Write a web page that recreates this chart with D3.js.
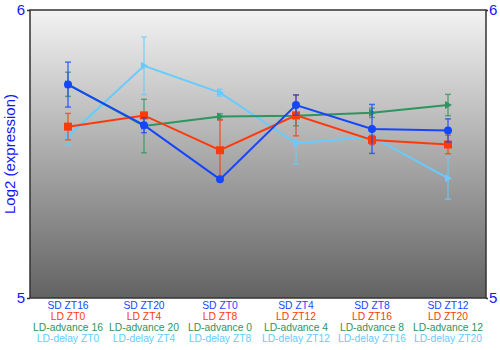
<!DOCTYPE html>
<html>
<head>
<meta charset="utf-8">
<script src="https://d3js.org/d3.v7.min.js"></script>
<style>
  body { margin: 0; background: #fff; }
  svg { font-family: "Liberation Sans", Arial, sans-serif; }
</style>
</head>
<body>
<div id="chart"></div>
<script>
// Data
const categories = ["0", "1", "2", "3", "4", "5"]
const labelsSD = ["SD ZT16", "SD ZT20", "SD ZT0", "SD ZT4", "SD ZT8", "SD ZT12"]
const labelsLD = ["LD ZT0", "LD ZT4", "LD ZT8", "LD ZT12", "LD ZT16", "LD ZT20"]
const labelsAdv = ["LD-advance 16", "LD-advance 20", "LD-advance 0", "LD-advance 4", "LD-advance 8", "LD-advance 12"]
const labelsDelay = ["LD-delay ZT0", "LD-delay ZT4", "LD-delay ZT8", "LD-delay ZT12", "LD-delay ZT16", "LD-delay ZT20"]

const sdValues = [5.741, 5.600, 5.412, 5.670, 5.587, 5.582]
const sdErrors = [0.078, 0.026, 0.006, 0.035, 0.085, 0.040]
const ldValues = [5.595, 5.634, 5.513, 5.634, 5.549, 5.533]
const ldErrors = [0.046, 0.010, 0.105, 0.071, 0.016, 0.032]
const advValues = [5.742, 5.597, 5.630, 5.633, 5.643, 5.670]
const advErrors = [0.042, 0.093, 0.010, 0.035, 0.016, 0.037]
const delayValues = [5.562, 5.806, 5.713, 5.537, 5.560, 5.416]
const delayErrors = [0.030, 0.100, 0.012, 0.072, 0.010, 0.073]

const yTicks = [5, 6]

const series = [
    { name: "SD", values: sdValues, errors: sdErrors, color: "#1446ff", marker: "circle", labels: labelsSD },
    { name: "LD", values: ldValues, errors: ldErrors, color: "#ff3a0a", marker: "square", labels: labelsLD },
    { name: "LD-advance", values: advValues, errors: advErrors, color: "#2e9460", marker: "triangle", labels: labelsAdv },
    { name: "LD-delay", values: delayValues, errors: delayErrors, color: "#66ccff", marker: "triangle", labels: labelsDelay },
]

// Dimensions
const dimensions = {
    width: 500,
    height: 350,
    margin: { top: 10, right: 14, bottom: 52, left: 30 },
}
dimensions.boundedWidth = dimensions.width - dimensions.margin.left - dimensions.margin.right
dimensions.boundedHeight = dimensions.height - dimensions.margin.top - dimensions.margin.bottom

const wrapper = d3.select("#chart")
    .append("svg")
    .attr("width", dimensions.width)
    .attr("height", dimensions.height)

const defs = wrapper.append("defs")
const grad = defs.append("linearGradient")
    .attr("id", "bg")
    .attr("x1", 0).attr("y1", 0).attr("x2", 0).attr("y2", 1)
grad.append("stop").attr("offset", "0%").attr("stop-color", "#f3f3f3")
grad.append("stop").attr("offset", "100%").attr("stop-color", "#636363")

const bounds = wrapper.append("g")
    .attr("transform", `translate(${dimensions.margin.left},${dimensions.margin.top})`)

// Scales
const xScale = d3.scalePoint()
    .domain(categories)
    .range([0, dimensions.boundedWidth])
    .padding(0.5)

const yScale = d3.scaleLinear()
    .domain([5, 6])
    .range([dimensions.boundedHeight, 0])

// Background
bounds.append("rect")
    .attr("width", dimensions.boundedWidth)
    .attr("height", dimensions.boundedHeight)
    .attr("fill", "url(#bg)")

// Data
const line = d3.line()
    .x((d, i) => xScale(categories[i]))
    .y(d => yScale(d))

const drawOrder = [3, 2, 1, 0]
drawOrder.forEach(k => {
    const s = series[k]
    const g = bounds.append("g")

    // error bars
    s.values.forEach((v, i) => {
        const x = xScale(categories[i])
        const y0 = yScale(v - s.errors[i])
        const y1 = yScale(v + s.errors[i])
        const eg = g.append("g")
            .attr("stroke", s.color)
            .attr("stroke-opacity", 0.7)
            .attr("stroke-width", 1.5)
        eg.append("line").attr("x1", x).attr("x2", x).attr("y1", y0).attr("y2", y1)
        eg.append("line").attr("x1", x - 3).attr("x2", x + 3).attr("y1", y0).attr("y2", y0)
        eg.append("line").attr("x1", x - 3).attr("x2", x + 3).attr("y1", y1).attr("y2", y1)
    })

    g.append("path")
        .attr("d", line(s.values))
        .attr("fill", "none")
        .attr("stroke", s.color)
        .attr("stroke-width", 2)

    s.values.forEach((v, i) => {
        const x = xScale(categories[i])
        const y = yScale(v)
        if (s.marker === "circle") {
            g.append("circle").attr("cx", x).attr("cy", y).attr("r", 4).attr("fill", s.color)
        } else if (s.marker === "square") {
            g.append("rect").attr("x", x - 4).attr("y", y - 4).attr("width", 8).attr("height", 8).attr("fill", s.color)
        } else {
            g.append("path")
                .attr("d", `M${x - 3},${y - 4}L${x + 4},${y}L${x - 3},${y + 4}Z`)
                .attr("fill", s.color)
        }
    })
})

// Frame
bounds.append("rect")
    .attr("width", dimensions.boundedWidth)
    .attr("height", dimensions.boundedHeight)
    .attr("fill", "none")
    .attr("stroke", "#333")
    .attr("stroke-width", 1.5)

// Axes
const yAxisLeft = bounds.append("g")
    .call(d3.axisLeft(yScale).tickValues(yTicks).tickFormat(d3.format("d")).tickSize(3).tickPadding(2))
yAxisLeft.select(".domain").remove()
yAxisLeft.selectAll("line").attr("stroke", "#333").attr("stroke-width", 1.5)
yAxisLeft.selectAll("text").attr("fill", "#1414ff").style("font-size", "15px")

const yAxisRight = bounds.append("g")
    .attr("transform", `translate(${dimensions.boundedWidth},0)`)
    .call(d3.axisRight(yScale).tickValues(yTicks).tickFormat(d3.format("d")).tickSize(2).tickPadding(1))
yAxisRight.select(".domain").remove()
yAxisRight.selectAll("line").attr("stroke", "#333").attr("stroke-width", 1.5)
yAxisRight.selectAll("text").attr("fill", "#1414ff").style("font-size", "15px")

wrapper.append("text")
    .attr("transform", `translate(15,${dimensions.margin.top + dimensions.boundedHeight / 2}) rotate(-90)`)
    .attr("text-anchor", "middle")
    .attr("fill", "#1414ff")
    .style("font-size", "15px")
    .text("Log2 (expression)")

// X labels
const xLabels = bounds.append("g")
    .attr("transform", `translate(0,${dimensions.boundedHeight})`)
series.forEach((s, k) => {
    xLabels.selectAll(null)
        .data(s.labels)
        .join("text")
        .attr("x", (d, i) => xScale(categories[i]))
        .attr("y", 11 + k * 11)
        .attr("text-anchor", "middle")
        .attr("fill", s.color)
        .style("font-size", "10.3px")
        .text(d => d)
})
</script>
</body>
</html>
